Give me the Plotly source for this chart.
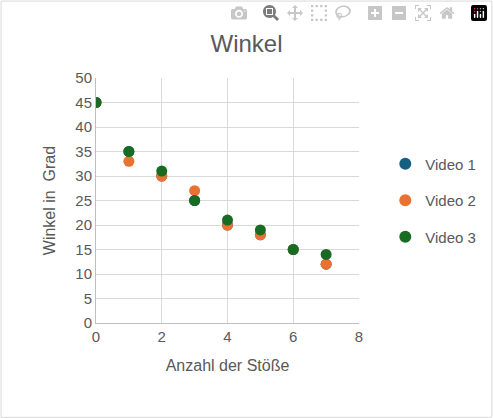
import plotly.graph_objects as go

stoesse = [0, 1, 2, 3, 4, 5, 6, 7]
video1 = [45, 35, 30, 25, 20, 18, 15, 12]
video2 = [45, 33, 30, 27, 20, 18, 15, 12]
video3 = [45, 35, 31, 25, 21, 19, 15, 14]

fig = go.Figure()
for name, vals, col in [("Video 1", video1, "#156082"),
                        ("Video 2", video2, "#E97132"),
                        ("Video 3", video3, "#196B24")]:
    fig.add_trace(go.Scatter(x=stoesse, y=vals, mode="markers", name=name,
                             legendgroup=name,
                             marker=dict(size=11, color=col)))

fig.update_layout(
    width=493, height=418,
    paper_bgcolor="white", plot_bgcolor="white",
    font=dict(family="Liberation Sans, Arial", color="#595959", size=14),
    title=dict(text="Winkel", x=0.5, xanchor="center", y=0.915, font=dict(size=24)),
    margin=dict(l=96, r=134, t=78, b=95),
    legend=dict(x=1.1, y=0.5, yanchor="middle", font=dict(size=15),
                tracegroupgap=14, itemsizing="constant"),
    shapes=[dict(type="rect", xref="paper", yref="paper", x0=-0.361, y0=-0.385,
                 x1=1.505, y1=1.314, line=dict(color="#d9d9d9", width=1))],
)
fig.update_xaxes(range=[0, 8], dtick=2, showgrid=True, gridcolor="#d9d9d9",
                 zeroline=False, showline=True, linecolor="#bfbfbf",
                 tickfont=dict(size=15),
                 title=dict(text="Anzahl der Stöße", font=dict(size=16)))
fig.update_yaxes(range=[0, 50], dtick=5, showgrid=True, gridcolor="#d9d9d9",
                 zeroline=False, showline=True, linecolor="#bfbfbf",
                 tickfont=dict(size=15),
                 title=dict(text="Winkel in  Grad", font=dict(size=16)))

fig.write_html("out.html", post_script="document.body.style.margin='0';")
